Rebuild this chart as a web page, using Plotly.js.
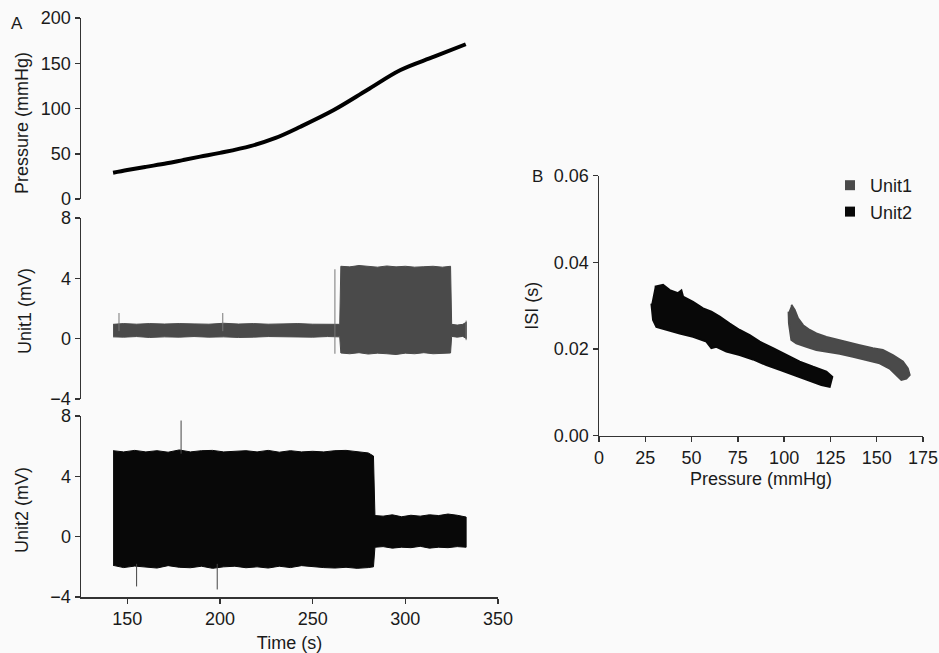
<!DOCTYPE html>
<html>
<head>
<meta charset="utf-8">
<script src="https://cdn.plot.ly/plotly-3.0.1.min.js"></script>
<style>html,body{margin:0;padding:0;background:#fafafa;}#chart{width:939px;height:653px;}</style>
</head>
<body>
<div id="chart"></div>
<script>
// Panel A top: pressure vs time
const pressureTime = [142.3, 150, 160, 171.3, 180, 189.3, 200, 216.4, 230, 243.4, 261.4, 279.4, 297.4, 315.5, 332.6];
const pressureVal  = [29, 32, 35.5, 39.4, 43, 46.8, 51, 58.5, 67.5, 79.9, 98.3, 120.4, 142.5, 157.2, 171];

// Panel A middle: Unit1 signal envelope (mV)
const unit1Time  = [142.3, 148, 155, 162, 170, 178, 186, 194, 202, 210, 218, 226, 234, 242, 250, 258, 264.6, 265.2, 270, 275, 280, 285, 290, 295, 300, 305, 310, 315, 320, 324.4, 325, 328, 331, 333];
const unit1Upper = [0.95, 1.0, 0.96, 1.0, 0.97, 1.0, 0.98, 0.96, 1.02, 0.97, 1.0, 0.96, 0.98, 1.0, 0.96, 0.98, 0.95, 4.8, 4.76, 4.85, 4.8, 4.74, 4.82, 4.76, 4.8, 4.74, 4.77, 4.8, 4.74, 4.8, 0.95, 0.9, 0.95, 1.1];
const unit1Lower = [0.12, 0.1, 0.14, 0.08, 0.12, 0.1, 0.14, 0.1, 0.12, 0.08, 0.1, 0.14, 0.1, 0.12, 0.1, 0.14, 0.12, -0.95, -1.0, -0.93, -1.02, -0.96, -1.0, -1.05, -0.96, -1.0, -0.93, -1.0, -0.96, -0.95, 0.15, 0.1, 0.15, 0.0];
const unit1SpikeTime = [145.5, 201.5, 262, 332.8];
const unit1SpikeTop  = [1.7, 1.7, 4.6, 1.2];
const unit1SpikeBot  = [0.5, 0.5, -1.0, -0.1];

// Panel A bottom: Unit2 signal envelope (mV)
const unit2Time  = [142.3, 148, 154, 160, 166, 172, 178, 184, 190, 196, 202, 208, 214, 220, 226, 232, 238, 244, 250, 256, 262, 268, 274, 280, 282.8, 283.6, 288, 293, 298, 303, 308, 313, 318, 323, 328, 332.8];
const unit2Upper = [5.7, 5.62, 5.72, 5.62, 5.7, 5.6, 5.75, 5.62, 5.7, 5.72, 5.62, 5.66, 5.7, 5.62, 5.72, 5.6, 5.7, 5.62, 5.66, 5.62, 5.7, 5.72, 5.62, 5.55, 5.35, 1.4, 1.36, 1.45, 1.32, 1.42, 1.36, 1.45, 1.4, 1.5, 1.42, 1.3];
const unit2Lower = [-1.9, -2.05, -1.95, -2.0, -2.08, -1.92, -2.03, -2.06, -1.96, -2.1, -2.0, -1.96, -2.06, -2.0, -2.08, -1.96, -2.05, -1.92, -2.0, -2.05, -2.08, -2.03, -2.1, -2.05, -2.0, -0.7, -0.66, -0.76, -0.7, -0.73, -0.64, -0.76, -0.7, -0.73, -0.66, -0.7];
const unit2SpikeTime = [155, 179, 198.5];
const unit2SpikeTop  = [-1.8, 7.7, -1.8];
const unit2SpikeBot  = [-3.3, 5.5, -3.5];

// Panel B: ISI vs pressure bands (upper and lower edges)
const isiU1UpperP = [103.9, 105.7, 107.5, 110.2, 113.8, 117.4, 122.8, 128.2, 133.6, 140.8, 147.9, 153.3, 158.7, 164.1, 166.8, 167.8];
const isiU1Upper  = [0.0302, 0.0290, 0.0271, 0.0255, 0.0244, 0.0236, 0.0228, 0.0222, 0.0217, 0.0209, 0.0202, 0.0198, 0.0186, 0.0171, 0.0155, 0.0140];
const isiU1LowerP = [102.4, 102.6, 103.9, 106.6, 112, 117.4, 122.8, 130, 137.2, 144.4, 151.6, 157, 160.6, 163.3, 166];
const isiU1Lower  = [0.0286, 0.0259, 0.0221, 0.0213, 0.0205, 0.0198, 0.0194, 0.0189, 0.0182, 0.0175, 0.0167, 0.0155, 0.0140, 0.0129, 0.0132];

const isiU2UpperP = [30.1, 34.6, 38.2, 42.7, 44.5, 45.4, 50.8, 56.2, 60.7, 65.2, 70.6, 76, 81.4, 86.8, 94, 101.2, 108.4, 115.6, 122.8, 126];
const isiU2Upper  = [0.0344, 0.0348, 0.0336, 0.0329, 0.0335, 0.0321, 0.0309, 0.0294, 0.0286, 0.0275, 0.0259, 0.0244, 0.0232, 0.0217, 0.0202, 0.0186, 0.0171, 0.0159, 0.0148, 0.0136];
const isiU2LowerP = [28.3, 29.2, 31, 36.4, 43.6, 50.8, 58, 60.7, 63.4, 68.8, 76, 83.2, 90.4, 97.6, 104.8, 112, 120.1, 124.6];
const isiU2Lower  = [0.0305, 0.0267, 0.0251, 0.0244, 0.0236, 0.0228, 0.0217, 0.0202, 0.0205, 0.0194, 0.0186, 0.0176, 0.0163, 0.0152, 0.0140, 0.0129, 0.0117, 0.0113];

const seriesNames = ['Unit1', 'Unit2'];
const unit1Color = '#4a4a4a';
const unit2Color = '#080808';

function envelope(xs, up, lo) {
  return { x: xs.concat(xs.slice().reverse()), y: up.concat(lo.slice().reverse()) };
}
function band(upX, up, loX, lo) {
  return { x: upX.concat(loX.slice().reverse()), y: up.concat(lo.slice().reverse()) };
}
function spikes(t, top, bot) {
  const x = [], y = [];
  for (let i = 0; i < t.length; i++) { x.push(t[i], t[i], null); y.push(bot[i], top[i], null); }
  return { x, y };
}

const e1 = envelope(unit1Time, unit1Upper, unit1Lower);
const e2 = envelope(unit2Time, unit2Upper, unit2Lower);
const s1 = spikes(unit1SpikeTime, unit1SpikeTop, unit1SpikeBot);
const s2 = spikes(unit2SpikeTime, unit2SpikeTop, unit2SpikeBot);
const b1 = band(isiU1UpperP, isiU1Upper, isiU1LowerP, isiU1Lower);
const b2 = band(isiU2UpperP, isiU2Upper, isiU2LowerP, isiU2Lower);

const traces = [
  { x: pressureTime, y: pressureVal, xaxis: 'x', yaxis: 'y', mode: 'lines', line: { color: '#000', width: 4, shape: 'spline', smoothing: 1 }, showlegend: false, hoverinfo: 'skip' },
  { x: e1.x, y: e1.y, xaxis: 'x2', yaxis: 'y2', mode: 'lines', fill: 'toself', fillcolor: unit1Color, line: { color: unit1Color, width: 1 }, showlegend: false },
  { x: s1.x, y: s1.y, xaxis: 'x2', yaxis: 'y2', mode: 'lines', line: { color: '#777', width: 1 }, showlegend: false },
  { x: e2.x, y: e2.y, xaxis: 'x3', yaxis: 'y3', mode: 'lines', fill: 'toself', fillcolor: unit2Color, line: { color: unit2Color, width: 1 }, showlegend: false },
  { x: s2.x, y: s2.y, xaxis: 'x3', yaxis: 'y3', mode: 'lines', line: { color: '#444', width: 1 }, showlegend: false },
  { x: b1.x, y: b1.y, xaxis: 'x4', yaxis: 'y4', mode: 'lines', fill: 'toself', fillcolor: unit1Color, line: { color: unit1Color, width: 2 }, showlegend: false },
  { x: b2.x, y: b2.y, xaxis: 'x4', yaxis: 'y4', mode: 'lines', fill: 'toself', fillcolor: unit2Color, line: { color: unit2Color, width: 2 }, showlegend: false },
  { x: [null], y: [null], xaxis: 'x4', yaxis: 'y4', mode: 'markers', name: seriesNames[0], marker: { symbol: 'square', size: 10, color: unit1Color } },
  { x: [null], y: [null], xaxis: 'x4', yaxis: 'y4', mode: 'markers', name: seriesNames[1], marker: { symbol: 'square', size: 10, color: unit2Color } }
];

const fontFam = 'Liberation Sans, Arial, sans-serif';
const txtFont = { size: 18, color: '#1a1a1a', family: fontFam };
const axCommon = {
  showgrid: false, zeroline: false, showline: true, linecolor: '#333', linewidth: 1.5,
  ticks: 'outside', ticklen: 5, tickwidth: 1.5, tickcolor: '#333',
  tickfont: txtFont
};
function ax(extra) { return Object.assign(JSON.parse(JSON.stringify(axCommon)), extra); }

const xA = [81 / 939, 498 / 939];
const layout = {
  width: 939, height: 653,
  margin: { l: 0, r: 0, t: 0, b: 0 },
  paper_bgcolor: '#fafafa', plot_bgcolor: 'rgba(0,0,0,0)',
  font: { family: fontFam, color: '#1a1a1a' },
  xaxis: ax({ domain: xA, range: [125, 350], anchor: 'y', visible: false }),
  yaxis: ax({ domain: [1 - 199 / 653, 1 - 18 / 653], range: [0, 200], tickvals: [0, 50, 100, 150, 200], anchor: 'x' }),
  xaxis2: ax({ domain: xA, range: [125, 350], anchor: 'y2', visible: false }),
  yaxis2: ax({ domain: [1 - 399 / 653, 1 - 218 / 653], range: [-4, 8], tickvals: [-4, 0, 4, 8], anchor: 'x2' }),
  xaxis3: ax({ domain: xA, range: [125, 350], anchor: 'y3', tickvals: [150, 200, 250, 300, 350], title: { text: 'Time (s)', standoff: 10, font: txtFont } }),
  yaxis3: ax({ domain: [1 - 597 / 653, 1 - 416 / 653], range: [-4, 8], tickvals: [-4, 0, 4, 8], anchor: 'x3' }),
  xaxis4: ax({ domain: [599 / 939, 923 / 939], range: [0, 175], tickvals: [0, 25, 50, 75, 100, 125, 150, 175], anchor: 'y4', title: { text: 'Pressure (mmHg)', standoff: 5, font: txtFont } }),
  yaxis4: ax({ domain: [1 - 435.7 / 653, 1 - 175.7 / 653], range: [0, 0.06], tickvals: [0, 0.02, 0.04, 0.06], tickformat: '.2f', anchor: 'x4', title: { text: 'ISI (s)', standoff: 10, font: txtFont } }),
  legend: { x: 830 / 939, y: 1 - 167 / 653, xanchor: 'left', yanchor: 'top', bgcolor: 'rgba(0,0,0,0)', font: { size: 18, color: '#1a1a1a', family: fontFam }, itemwidth: 30, tracegroupgap: 0 },
  showlegend: true,
  annotations: [
    { text: 'A', xref: 'paper', yref: 'paper', x: 17 / 939, y: 1 - 24 / 653, xanchor: 'center', yanchor: 'middle', showarrow: false, font: { size: 17, color: '#1a1a1a', family: fontFam } },
    { text: 'B', xref: 'paper', yref: 'paper', x: 537 / 939, y: 1 - 176 / 653, xanchor: 'center', yanchor: 'middle', showarrow: false, font: { size: 17, color: '#1a1a1a', family: fontFam } },
    { text: 'Pressure (mmHg)', textangle: -90, xref: 'paper', yref: 'paper', x: 22 / 939, y: 1 - 123 / 653, xanchor: 'center', yanchor: 'middle', showarrow: false, font: txtFont },
    { text: 'Unit1 (mV)', textangle: -90, xref: 'paper', yref: 'paper', x: 25 / 939, y: 1 - 311 / 653, xanchor: 'center', yanchor: 'middle', showarrow: false, font: txtFont },
    { text: 'Unit2 (mV)', textangle: -90, xref: 'paper', yref: 'paper', x: 22 / 939, y: 1 - 510 / 653, xanchor: 'center', yanchor: 'middle', showarrow: false, font: txtFont }
  ]
};

Plotly.newPlot('chart', traces, layout, { staticPlot: true, displayModeBar: false });
</script>
</body>
</html>
